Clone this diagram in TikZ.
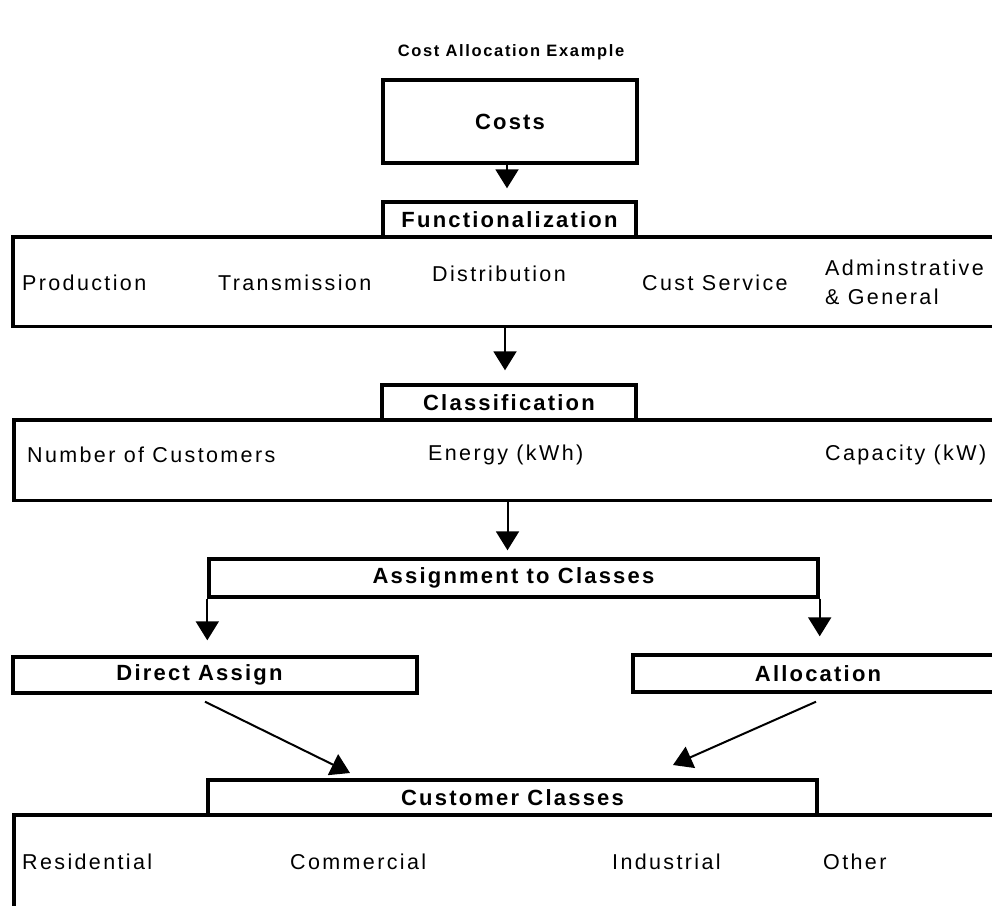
\documentclass[tikz,border=0pt]{standalone}
\usepackage{fontspec}
\setmainfont{Liberation Sans}
\newfontfamily\spfont[LetterSpace=11]{Liberation Sans}
\newfontfamily\spbfont[LetterSpace=10]{Liberation Sans}
\usetikzlibrary{arrows.meta,calc}
\begin{document}
\begin{tikzpicture}[x=1pt,y=-1pt,
  box/.style={draw,line width=3.4pt,line join=miter,inner sep=0pt,
    font=\spbfont\bfseries\fontsize{22}{25}\selectfont},
  rowbox/.style={inner sep=0pt},
  rowline/.style={line width=3.4pt,line join=miter},
  txt/.style={font=\spfont\fontsize{21.5}{29}\selectfont,anchor=west,inner sep=0pt,align=left},
  arr/.style={line width=2pt,-{Triangle[length=19pt,width=23pt]}},
]
\fill[white] (0,0) rectangle (992,905);
\useasboundingbox (0,0) rectangle (992,905);

% title
\node[font=\spbfont\bfseries\fontsize{16.5}{19}\selectfont] (title) at (511,52) {Cost Allocation Example};

% costs
\node[box,minimum width=254pt,minimum height=83pt] (costs) at (510,121.5) {Costs};
\node[box,minimum width=253pt,minimum height=35pt] (func) at (509.5,219.5) {Functionalization};

% functional row
\node[rowbox,minimum width=982pt,minimum height=89pt] (frow) at (504,281.5) {};
\draw[rowline] (frow.north east) -- (frow.north west) -- (frow.south west) -- (frow.south east);
\node[txt] (prod) at (22,283) {Production};
\node[txt] (trans) at (218,283) {Transmission};
\node[txt] (dist) at (432,274) {Distribution};
\node[txt] (cust) at (642,283) {Cust Service};
\node[txt] (adm) at (825,282) {Adminstrative\\\& General};

% classification
\node[box,minimum width=254pt,minimum height=35pt] (cls) at (509,402.5) {Classification};
\node[rowbox,minimum width=981pt,minimum height=80pt] (crow) at (504.5,460) {};
\draw[rowline] (crow.north east) -- (crow.north west) -- (crow.south west) -- (crow.south east);
\node[txt] (numc) at (27,455) {Number of Customers};
\node[txt] (energy) at (428,455) {Energy (kWh)};
\node[txt] (cap) at (825,455) {Capacity (kW)};

% assignment
\node[box,minimum width=609pt,minimum height=38pt] (asg) at (513.5,578) {Assignment to Classes};
\node[box,minimum width=404pt,minimum height=36pt] (direct) at (215,675) {Direct Assign\kern31pt};
\node[box,minimum width=370pt,minimum height=37pt] (alloc) at (818,673.5) {Allocation};

% customer classes
\node[box,minimum width=609pt,minimum height=35pt] (ccls) at (512.5,797.5) {Customer Classes};
\node[rowbox,minimum width=981pt,minimum height=100pt] (rrow) at (504.5,865) {};
\draw[rowline] (rrow.north east) -- (rrow.north west) -- (rrow.south west);
\node[txt] (res) at (22,862) {Residential};
\node[txt] (com) at (290,862) {Commercial};
\node[txt] (ind) at (612,862) {Industrial};
\node[txt] (oth) at (823,862) {Other};

% connectors
\draw[arr,shorten >=12pt] ([xshift=-3pt]costs.south) -- ([xshift=-3pt]costs.south |- func.north);
\coordinate (c1) at ([xshift=-4pt]cls.north);
\draw[arr,shorten >=13pt] (frow.south -| c1) -- (c1);
\coordinate (a1) at ([xshift=-6pt]asg.north);
\draw[arr,shorten >=7pt] (crow.south -| a1) -- (a1);
\draw[arr,shorten >=15pt] (asg.south west) -- (asg.south west |- direct.north);
\draw[arr,shorten >=17pt] (asg.south east) -- (asg.south east |- alloc.north);
\coordinate (dtip) at (350,773);
\coordinate (atip) at (673,765);
\draw[arr] ($(direct.south)+(-10,7)$) -- (dtip);
\draw[arr] ($(alloc.south)+(-2,8)$) -- (atip);
\end{tikzpicture}
\end{document}
